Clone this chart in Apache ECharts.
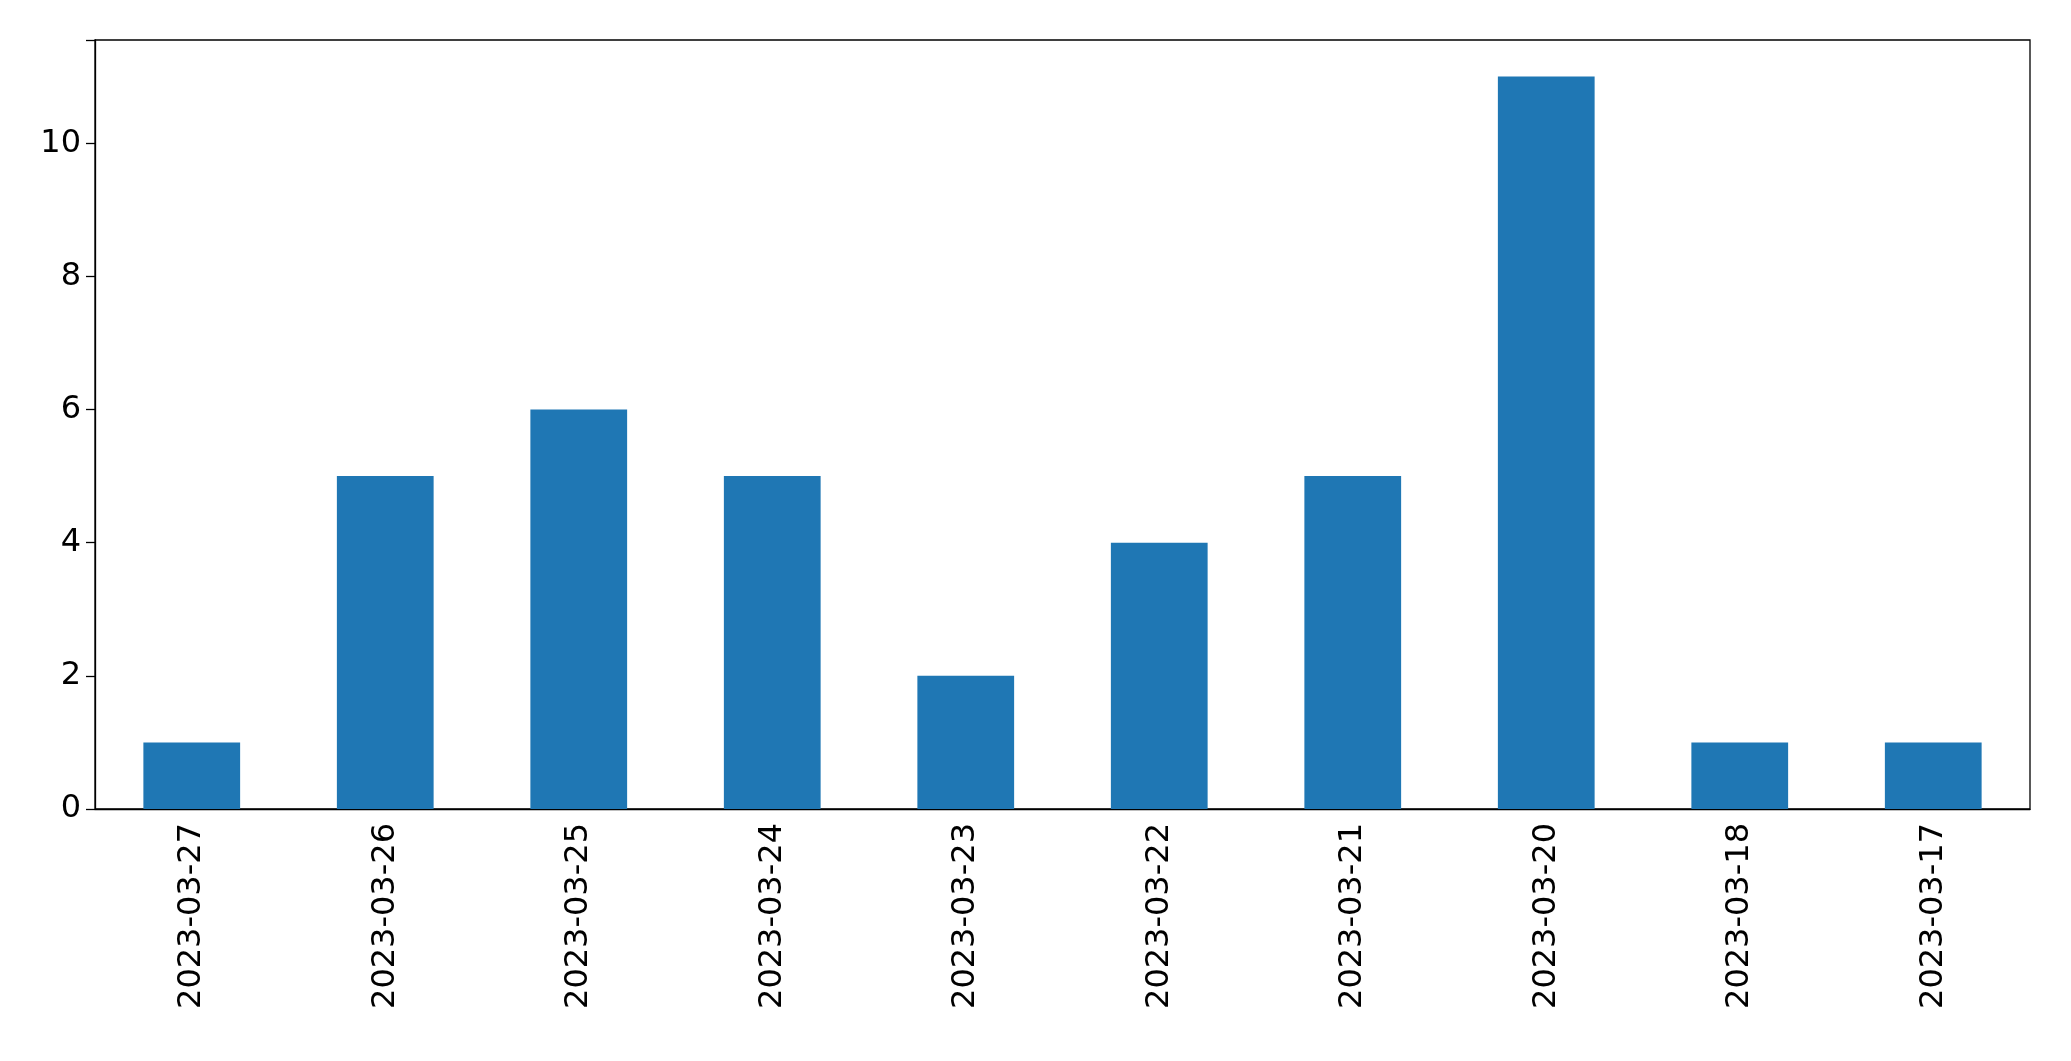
<!DOCTYPE html><html><head><meta charset="utf-8"><script src="https://cdn.jsdelivr.net/npm/echarts@6/dist/echarts.min.js"></script>
<style>html,body{margin:0;padding:0;background:#fff}#c{width:2071px;height:1061px}</style></head><body><div id="c"></div><script>
const categories=["2023-03-27","2023-03-26","2023-03-25","2023-03-24","2023-03-23","2023-03-22","2023-03-21","2023-03-20","2023-03-18","2023-03-17"];
const values=[1,5,6,5,2,4,5,11,1,1];
const yTicks=[0,2,4,6,8,10];
const chart=echarts.init(document.getElementById('c'));
const font='DejaVu Sans';
chart.setOption({animation:false,
grid:{left:95,right:41,top:40,bottom:252,show:true,borderColor:'#000',borderWidth:1.3},
xAxis:{type:'category',data:categories,boundaryGap:true,
 axisLine:{lineStyle:{color:'#000',width:1.3}},
 axisTick:{alignWithLabel:true,length:9,lineStyle:{color:'#000',width:1.3}},
 axisLabel:{rotate:90,color:'#000',fontSize:32,fontFamily:font,margin:14,interval:0}},
yAxis:{type:'value',min:0,max:11.55,interval:2,
 axisLine:{show:true,lineStyle:{color:'#000',width:1.3}},
 axisTick:{show:true,length:9,lineStyle:{color:'#000',width:1.3}},
 splitLine:{show:false},
 axisLabel:{color:'#000',fontSize:32,fontFamily:font,margin:14,
  formatter:v=>yTicks.includes(v)?String(v):''}},
series:[{type:'bar',data:values,barWidth:'50%',itemStyle:{color:'#1f77b4'}}]});
</script></body></html>
